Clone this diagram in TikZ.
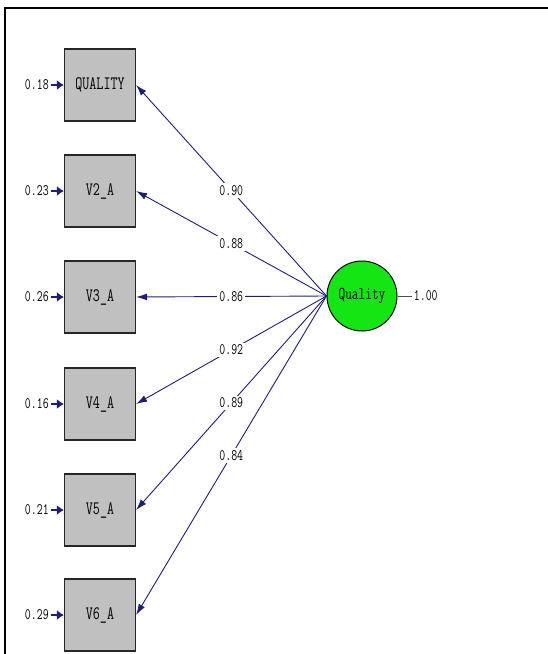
\documentclass[tikz,border=0pt]{standalone}
\usepackage{fontspec}
\usepackage{xcolor}
\usetikzlibrary{positioning,calc,arrows.meta}
\newfontfamily\lisrelfont[FakeStretch=0.72]{Latin Modern Mono}
\definecolor{pathblue}{RGB}{30,30,120}
\definecolor{boxgray}{RGB}{192,192,192}
\definecolor{latgreen}{RGB}{20,230,20}
\tikzset{
    obsbox/.style={draw=black!85, line width=1.2pt, fill=boxgray, minimum width=71pt, minimum height=72pt, inner sep=0pt, font=\lisrelfont\fontsize{19}{19}\selectfont},
    latent/.style={circle, draw=black, line width=1pt, fill=latgreen, minimum size=70pt, inner sep=0pt, font=\lisrelfont\fontsize{18}{18}\selectfont},
    coef/.style={fill=white, text=black, inner sep=2pt, font=\lisrelfont\fontsize{16}{16}\selectfont},
    load/.style={draw=pathblue, line width=0.9pt, -{Latex[length=11pt,width=7pt]}},
    err/.style={draw=pathblue, line width=2.6pt, -{Latex[length=7pt,width=10pt]}}
}
\begin{document}
\begin{tikzpicture}[x=1pt, y=-1pt]
    \useasboundingbox (0,0) rectangle (548,654);
    % Frame
    \draw[line width=2.5pt] (5,654) -- (5,8) -- (548,8);

    % Observed variables
    \node[obsbox] (q1) at (100,85) {QUALITY};
    \node[obsbox] (q2) at (100,191) {V2\_A};
    \node[obsbox] (q3) at (100,297) {V3\_A};
    \node[obsbox] (q4) at (100,404) {V4\_A};
    \node[obsbox] (q5) at (100,510) {V5\_A};
    \node[obsbox] (q6) at (100,615) {V6\_A};

    % Latent variable
    \node[latent] (Q) at (362,296) {Quality};

    % Error variances
    \foreach \i/\e in {1/0.18, 2/0.23, 3/0.26, 4/0.16, 5/0.21, 6/0.29} {
        \node[coef, anchor=east] (e\i) at ($(q\i.west)+(-13,0)$) {\e};
        \draw[err] (e\i.east) -- (q\i.west);
    }

    % Loadings
    \draw[load] (Q.west) -- (q1.east) node[coef, midway] {0.90};
    \draw[load] (Q.west) -- (q2.east) node[coef, midway] {0.88};
    \draw[load] (Q.west) -- (q3.east) node[coef, midway] {0.86};
    \draw[load] (Q.west) -- (q4.east) node[coef, midway] {0.92};
    \draw[load] (Q.west) -- (q5.east) node[coef, midway] {0.89};
    \draw[load] (Q.west) -- (q6.east) node[coef, midway] {0.84};

    % Variance of latent
    \draw[black!70, line width=0.8pt] (Q.east) -- ++(14,0) node[coef, right] (v) {1.00};
\end{tikzpicture}
\end{document}
